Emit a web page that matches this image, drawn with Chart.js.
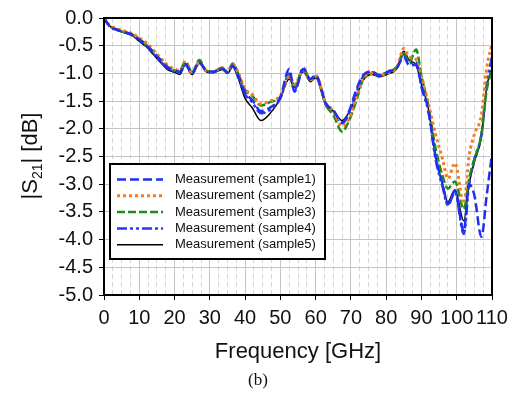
<!DOCTYPE html>
<html>
<head>
<meta charset="utf-8">
<script src="https://cdn.jsdelivr.net/npm/chart.js@4"></script>
<style>
  body { margin: 0; background: #fff; }
</style>
</head>
<body>
<canvas id="s21" width="514" height="401"></canvas>
<script>
// frequency points (GHz), shared by all samples
const freq = [0, 1, 2, 4, 6, 8, 10, 12, 14, 16, 18, 20, 21.5, 23, 25, 27, 29, 31, 33.5, 35,
    36.5, 38, 40, 42, 44.5, 47, 50, 52.5, 54, 56.5, 58.5, 60, 63, 65, 67.5, 69.5, 71.5, 73.5, 76, 78,
    81, 83, 85, 86.5, 88.5, 90, 92, 94, 96, 97.5, 99.5, 102, 103.5, 105, 107, 108.5, 110];

// |S21| in dB
const sample1 = [0, -0.1, -0.16, -0.22, -0.26, -0.3, -0.39, -0.49, -0.62, -0.76,
    -0.89, -0.95, -0.97, -0.83, -0.99, -0.8, -0.95, -0.97, -0.91, -0.98,
    -0.86, -1.03, -1.35, -1.48, -1.68, -1.62, -1.43, -0.92, -1.33, -0.92,
    -1.1, -1.04, -1.55, -1.66, -1.88, -1.68, -1.3, -1.03, -0.97, -1.04,
    -0.96, -0.9, -0.7, -0.85, -0.85, -1.22, -1.68, -2.5, -3.0, -3.36,
    -3.12, -3.85, -3.0, -3.2, -3.95, -3.2, -2.45];
const sample2 = [0, -0.09, -0.15, -0.2, -0.24, -0.28, -0.36, -0.45, -0.58, -0.72,
    -0.85, -0.92, -0.95, -0.8, -0.98, -0.8, -0.95, -0.97, -0.9, -0.97,
    -0.83, -0.98, -1.28, -1.38, -1.55, -1.5, -1.4, -1.05, -1.2, -0.95,
    -1.12, -1.05, -1.55, -1.68, -1.95, -1.82, -1.45, -1.1, -1.0, -1.03,
    -0.98, -0.9, -0.55, -0.7, -0.75, -1.05, -1.55, -2.1, -2.55, -2.9,
    -2.62, -3.35, -2.5, -2.1, -1.75, -0.9, -0.47];
const sample3 = [0, -0.1, -0.16, -0.22, -0.26, -0.3, -0.38, -0.48, -0.61, -0.75,
    -0.88, -0.95, -0.97, -0.78, -0.98, -0.76, -0.95, -0.97, -0.9, -0.98,
    -0.82, -1.0, -1.3, -1.4, -1.58, -1.52, -1.42, -1.05, -1.22, -0.93,
    -1.12, -1.03, -1.58, -1.75, -2.05, -1.85, -1.5, -1.1, -0.98, -1.02,
    -0.96, -0.88, -0.62, -0.8, -0.57, -1.05, -1.6, -2.35, -2.85, -3.08,
    -2.95, -3.45, -2.9, -2.55, -2.1, -1.3, -0.95];
const sample4 = [0, -0.1, -0.17, -0.22, -0.26, -0.31, -0.4, -0.5, -0.64, -0.78,
    -0.9, -0.96, -0.98, -0.84, -1.0, -0.8, -0.96, -0.98, -0.9, -0.98,
    -0.87, -1.05, -1.38, -1.52, -1.72, -1.66, -1.45, -1.0, -1.3, -0.9,
    -1.12, -1.05, -1.58, -1.7, -1.9, -1.72, -1.35, -1.05, -0.98, -1.05,
    -0.95, -0.9, -0.65, -0.82, -0.8, -1.25, -1.7, -2.55, -3.05, -3.38,
    -3.15, -3.9, -3.0, -2.55, -2.1, -1.2, -0.7];
const sample5 = [0, -0.1, -0.17, -0.23, -0.27, -0.32, -0.42, -0.52, -0.66, -0.8,
    -0.93, -0.98, -1.02, -0.85, -1.02, -0.82, -0.97, -0.99, -0.93, -1.0,
    -0.88, -1.08, -1.45, -1.62, -1.85, -1.73, -1.45, -1.1, -1.25, -0.97,
    -1.15, -1.08, -1.6, -1.68, -1.85, -1.7, -1.42, -1.12, -1.02, -1.06,
    -1.0, -0.92, -0.6, -0.76, -0.85, -1.2, -1.65, -2.5, -3.0, -3.32,
    -3.1, -3.66, -3.0, -2.6, -2.15, -1.25, -0.9];

const labels = ['Measurement (sample1)', 'Measurement (sample2)', 'Measurement (sample3)',
    'Measurement (sample4)', 'Measurement (sample5)'];

const FONT = 'Liberation Sans, Arial, sans-serif';

function pts(ys) {
    return freq.map((f, i) => ({ x: f, y: ys[i] }));
}

function line(label, ys, color, width, dash) {
    return {
        label: label,
        data: pts(ys),
        borderColor: color,
        borderWidth: width,
        borderDash: dash,
        pointRadius: 0,
        fill: false,
        cubicInterpolationMode: 'monotone'
    };
}

// legend in the box + frame + y title + caption
const extras = {
    id: 'extras',
    afterDraw(chart) {
        const ctx = chart.ctx;
        const a = chart.chartArea;
        ctx.save();
        ctx.strokeStyle = '#000';
        ctx.lineWidth = 2;
        ctx.setLineDash([]);
        ctx.strokeRect(a.left, a.top, a.right - a.left, a.bottom - a.top);

        // legend box
        ctx.fillStyle = '#fff';
        ctx.fillRect(110, 164, 215, 95);
        ctx.strokeRect(110, 164, 215, 95);
        ctx.font = '13px ' + FONT;
        ctx.textBaseline = 'middle';
        chart.data.datasets.forEach((ds, i) => {
            const y = 179.5 + i * 16.3;
            ctx.beginPath();
            ctx.strokeStyle = ds.borderColor;
            ctx.lineWidth = ds.borderWidth;
            ctx.setLineDash(ds.borderDash);
            ctx.moveTo(117, y);
            ctx.lineTo(163, y);
            ctx.stroke();
            ctx.setLineDash([]);
            ctx.fillStyle = '#111';
            ctx.fillText(ds.label, 175, y);
        });

        // y title |S21| [dB]
        ctx.translate(31, 156);
        ctx.rotate(-Math.PI / 2);
        ctx.fillStyle = '#111';
        ctx.font = '22px ' + FONT;
        const p1 = '|S', p3 = '| [dB]';
        ctx.font = '14px ' + FONT;
        const w2 = ctx.measureText('21').width;
        ctx.font = '22px ' + FONT;
        const w1 = ctx.measureText(p1).width, w3 = ctx.measureText(p3).width;
        let x = -(w1 + w2 + w3) / 2;
        ctx.textBaseline = 'middle';
        ctx.fillText(p1, x, 0);
        x += w1;
        ctx.font = '14px ' + FONT;
        ctx.fillText('21', x, 7);
        x += w2;
        ctx.font = '22px ' + FONT;
        ctx.fillText(p3, x, 0);
        ctx.restore();

        ctx.save();
        ctx.fillStyle = '#111';
        ctx.font = '17px Liberation Serif, Times New Roman, serif';
        ctx.textAlign = 'center';
        ctx.textBaseline = 'middle';
        ctx.fillText('(b)', 258, 381);
        ctx.restore();
    }
};

const isMajor = c => c.tick && Math.abs(c.tick.value % 10) < 1e-6;

new Chart(document.getElementById('s21'), {
    type: 'line',
    data: {
        datasets: [
            line(labels[0], sample1, '#1f2ef2', 2.5, [9, 4]),
            line(labels[1], sample2, '#f47b20', 3, [3, 3]),
            line(labels[2], sample3, '#1e8a1e', 2.5, [8, 3]),
            line(labels[3], sample4, '#2a3aee', 2.5, [10, 3, 3, 3, 3, 3]),
            line(labels[4], sample5, '#000000', 1.5, [])
        ]
    },
    options: {
        responsive: false,
        animation: false,
        layout: { padding: { left: 0, right: 22, top: 15, bottom: 0 } },
        plugins: {
            legend: { display: false },
            tooltip: { enabled: false }
        },
        scales: {
            x: {
                type: 'linear',
                min: 0,
                max: 110,
                afterFit: s => { s.height = 106; },
                ticks: {
                    stepSize: 2.5,
                    autoSkip: false,
                    maxRotation: 0,
                    padding: 6,
                    color: '#111',
                    font: { family: FONT, size: 20 },
                    callback: v => (Math.abs(v % 10) < 1e-6 ? v : '')
                },
                grid: {
                    color: c => (isMajor(c) ? '#c4c4c4' : '#d6d6d6'),
                    tickLength: 5,
                    tickColor: c => (isMajor(c) ? '#000' : 'rgba(0,0,0,0)')
                },
                border: {
                    color: '#000',
                    width: 2,
                    dash: c => (c.tick && !isMajor(c) ? [5, 3] : [])
                },
                title: {
                    display: true,
                    text: 'Frequency [GHz]',
                    color: '#111',
                    font: { family: FONT, size: 22 },
                    padding: { top: 4, bottom: 36 }
                }
            },
            y: {
                min: -5,
                max: 0,
                afterFit: s => { s.width = 104; },
                ticks: {
                    stepSize: 0.5,
                    padding: 6,
                    color: '#111',
                    font: { family: FONT, size: 20 },
                    callback: v => v.toFixed(1)
                },
                grid: {
                    color: '#c4c4c4',
                    tickLength: 5,
                    tickColor: '#000'
                },
                border: { color: '#000', width: 2 }
            }
        }
    },
    plugins: [extras]
});
</script>
</body>
</html>
